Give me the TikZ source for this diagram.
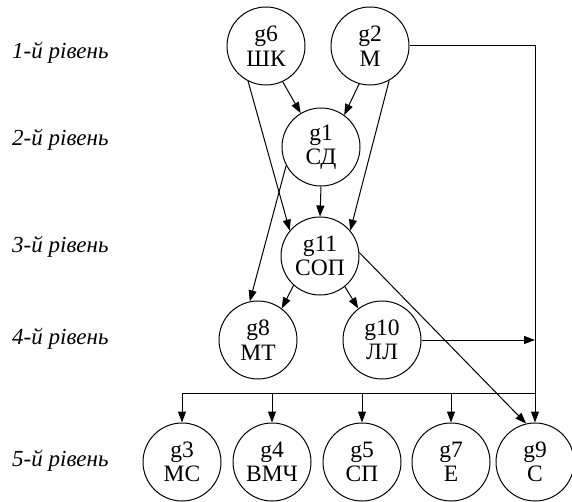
\documentclass[tikz,border=0pt]{standalone}
\usepackage{fontspec}
\setmainfont{Liberation Serif}
\usetikzlibrary{arrows.meta}
\begin{document}
\begin{tikzpicture}[x=1pt,y=-1pt,
  gnode/.style={circle,draw,line width=1pt,minimum size=78pt,inner sep=0pt,
    align=center,font=\fontsize{23.5}{24.5}\selectfont},
  lvl/.style={anchor=base west,inner sep=0pt,font=\fontsize{23}{24}\selectfont\itshape},
  conn/.style={line width=1pt,-{Triangle[length=11pt,width=8pt]}},
  wire/.style={line width=1pt}]
\useasboundingbox (0,0) rectangle (572,502);

% level captions
\node[lvl] (l1) at (12,59)  {1-й рівень};
\node[lvl] (l2) at (12,146) {2-й рівень};
\node[lvl] (l3) at (12,253) {3-й рівень};
\node[lvl] (l4) at (12,344) {4-й рівень};
\node[lvl] (l5) at (12,466) {5-й рівень};

% graph nodes
\node[gnode] (g6)  at (266,46)  {g6\\ШК};
\node[gnode] (g2)  at (370,46)  {g2\\М};
\node[gnode] (g1)  at (321,147) {g1\\СД};
\node[gnode] (g11) at (320,256) {g11\\СОП};
\node[gnode] (g8)  at (258,340) {g8\\МТ};
\node[gnode] (g10) at (382,340) {g10\\ЛЛ};
\node[gnode] (g3)  at (182,462) {g3\\МС};
\node[gnode] (g4)  at (272,462) {g4\\ВМЧ};
\node[gnode] (g5)  at (362,462) {g5\\СП};
\node[gnode] (g7)  at (451,462) {g7\\Е};
\node[gnode] (g9)  at (535,462) {g9\\С};

% routing points of the right-hand trunk and the lower bus
\coordinate (tr) at (535,46);
\coordinate (tj) at (535,340);
\coordinate (bj) at (535,393);
\coordinate (b3) at (182,393);
\coordinate (b4) at (272,393);
\coordinate (b5) at (362,393);
\coordinate (b7) at (451,393);

% edges between levels
\draw[conn] (g6.-65)   -- (g1.121);
\draw[conn] (g2.-106)  -- (g1.54);
\draw[conn] (g6.-117)  -- (g11.140);
\draw[conn] (g2.-61)   -- (g11.40);
\draw[conn] (g1.south) -- (g11.north);
\draw[conn] (g1.208)   -- (g8.102);
\draw[conn] (g11.228)  -- (g8.53);
\draw[conn] (g11.-51)  -- (g10.127);
\draw[conn] (g11.5)    -- (g9.103);

% trunk from g2 down to g9, with g10 joining it
\draw[conn] (g2.east) -- (tr) -- (g9.north);
\draw[conn] (g10.east) -- (tj);

% bus feeding the lower level
\draw[wire] (bj) -- (b3);
\draw[conn] (b3) -- (g3.north);
\draw[conn] (b4) -- (g4.north);
\draw[conn] (b5) -- (g5.north);
\draw[conn] (b7) -- (g7.north);
\end{tikzpicture}
\end{document}
